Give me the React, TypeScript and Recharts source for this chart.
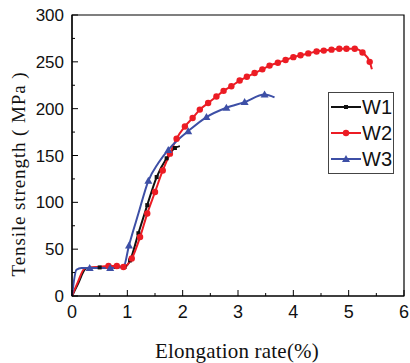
import { LineChart, Line, XAxis, YAxis, ReferenceArea } from 'recharts'

const w1X = [0, 0.1, 0.26, 0.5, 0.8, 0.95, 1.05, 1.2, 1.36, 1.53, 1.71, 1.86, 1.95]
const w1Y = [0, 12, 29.5, 30.5, 31, 31, 38, 67, 97, 127, 147, 158, 160]

const w2X = [0, 0.1, 0.23, 0.45, 0.66, 0.81, 0.93, 1.08, 1.23, 1.36, 1.5, 1.64, 1.77, 1.89, 2.04, 2.18, 2.31, 2.46, 2.61, 2.74, 2.88, 3.03, 3.16, 3.3, 3.44, 3.57, 3.72, 3.86, 4.0, 4.13, 4.27, 4.42, 4.55, 4.69, 4.83, 4.96, 5.11, 5.25, 5.38, 5.42]
const w2Y = [0, 14, 29.5, 31, 32, 32, 31, 40, 63, 88, 111, 134, 152, 168, 181, 190, 199, 206, 213, 219, 224, 230, 234, 238, 242, 246, 249, 252, 255, 257, 259, 261, 262, 263, 264, 264, 264, 260, 250, 242]
const w2Marker = [false, false, false, false, true, true, true, true, true, true, true, true, true, true, true, true, true, true, true, true, true, true, true, true, true, true, true, true, true, true, true, true, true, true, true, true, true, true, true, false]

const w3X = [0, 0.08, 0.17, 0.32, 0.69, 0.93, 1.03, 1.2, 1.38, 1.56, 1.74, 1.92, 2.1, 2.43, 2.79, 3.12, 3.48, 3.66]
const w3Y = [0, 28, 30, 30, 30, 31, 54, 88, 123, 142, 156, 167, 176, 191, 201, 207, 215, 212]
const w3Marker = [false, false, false, true, true, false, true, false, true, false, true, false, true, true, true, true, true, false]

const xTicks = [0, 0.5, 1, 1.5, 2, 2.5, 3, 3.5, 4, 4.5, 5, 5.5, 6]
const yTicks = [0, 25, 50, 75, 100, 125, 150, 175, 200, 225, 250, 275, 300]

const series = [
  { name: 'W1', color: '#111111', shape: 'square', data: w1X.map((x, i) => ({ x, y: w1Y[i], m: i > 2 && i < w1X.length - 1 })) },
  { name: 'W2', color: '#ec1c24', shape: 'circle', data: w2X.map((x, i) => ({ x, y: w2Y[i], m: w2Marker[i] })) },
  { name: 'W3', color: '#3d4fa6', shape: 'triangle', data: w3X.map((x, i) => ({ x, y: w3Y[i], m: w3Marker[i] })) },
]

const TICK_FONT = '"Liberation Sans", Arial, sans-serif'
const TITLE_FONT = '"Liberation Serif", "Times New Roman", serif'

function Marker({ cx, cy, shape, color }: { cx: number; cy: number; shape: string; color: string }) {
  if (shape === 'square') return <rect x={cx - 2} y={cy - 2} width={4} height={4} fill={color} />
  if (shape === 'circle') return <circle cx={cx} cy={cy} r={3.2} fill={color} />
  return <polygon points={`${cx},${cy - 4} ${cx - 4},${cy + 3} ${cx + 4},${cy + 3}`} fill={color} />
}

function makeDot(shape: string, color: string) {
  return (props: any) => {
    const { cx, cy, payload, index } = props
    if (!payload?.m) return <g key={index} />
    return <Marker key={index} cx={cx} cy={cy} shape={shape} color={color} />
  }
}

function XTick(props: any) {
  const { x, y, payload } = props
  const major = Number.isInteger(payload.value)
  const axisY = y - 10
  return (
    <g>
      <line x1={x} x2={x} y1={axisY} y2={axisY - (major ? 6 : 3)} stroke="#000" strokeWidth={1} />
      {major && (
        <text x={x} y={axisY + 22} textAnchor="middle" fontSize={18} fontFamily={TICK_FONT} fill="#111">
          {payload.value}
        </text>
      )}
    </g>
  )
}

function YTick(props: any) {
  const { x, y, payload } = props
  const major = payload.value % 50 === 0
  const axisX = x + 10
  return (
    <g>
      <line x1={axisX} x2={axisX + (major ? 6 : 3)} y1={y} y2={y} stroke="#000" strokeWidth={1} />
      {major && (
        <text x={axisX - 8} y={y + 6} textAnchor="end" fontSize={17} fontFamily={TICK_FONT} fill="#111">
          {payload.value}
        </text>
      )}
    </g>
  )
}

function LegendBox() {
  return (
    <div style={{ position: 'absolute', left: 328, top: 92, border: '1px solid #444', background: '#fff', width: 62, padding: '1px 0 1px 2px' }}>
      {series.map(s => (
        <div key={s.name} style={{ display: 'flex', alignItems: 'center', height: 26 }}>
          <svg width={30} height={12}>
            <line x1={0} x2={30} y1={6} y2={6} stroke={s.color} strokeWidth={2} />
            <Marker cx={15} cy={6} shape={s.shape} color={s.color} />
          </svg>
          <span style={{ fontFamily: TICK_FONT, fontSize: 20, color: '#111', marginLeft: 1, lineHeight: 1 }}>{s.name}</span>
        </div>
      ))}
    </div>
  )
}

export default function App() {
  return (
    <div style={{ position: 'absolute', left: 0, top: 0, width: 410, height: 363, background: '#fff' }}>
      <LineChart width={410} height={363} margin={{ top: 15, right: 6, left: 0, bottom: 0 }}>
        <XAxis
          type="number"
          dataKey="x"
          domain={[0, 6]}
          ticks={xTicks}
          interval={0}
          height={67}
          tickSize={0}
          tickMargin={10}
          tick={<XTick />}
          axisLine={{ stroke: '#000', strokeWidth: 1.2 }}
          allowDuplicatedCategory={false}
        />
        <YAxis
          type="number"
          domain={[0, 300]}
          ticks={yTicks}
          interval={0}
          width={72}
          tickSize={0}
          tickMargin={10}
          tick={<YTick />}
          axisLine={{ stroke: '#000', strokeWidth: 1.2 }}
        />
        <ReferenceArea x1={0} x2={6} y1={0} y2={300} fill="none" stroke="#000" strokeWidth={1.2} ifOverflow="visible" />
        {series.map(s => (
          <Line
            key={s.name}
            data={s.data}
            dataKey="y"
            name={s.name}
            type="monotone"
            stroke={s.color}
            strokeWidth={2}
            dot={makeDot(s.shape, s.color)}
            activeDot={false}
            isAnimationActive={false}
          />
        ))}
        <text x={21} y={174} transform="rotate(-90 21 174)" textAnchor="middle" dominantBaseline="middle" fontSize={19} letterSpacing={0.9} fontFamily={TITLE_FONT} fill="#111">
          Tensile strength ( MPa )
        </text>
        <text x={237} y={358} textAnchor="middle" fontSize={21} letterSpacing={0.2} fontFamily={TITLE_FONT} fill="#111">
          Elongation rate(%)
        </text>
      </LineChart>
      <LegendBox />
    </div>
  )
}
